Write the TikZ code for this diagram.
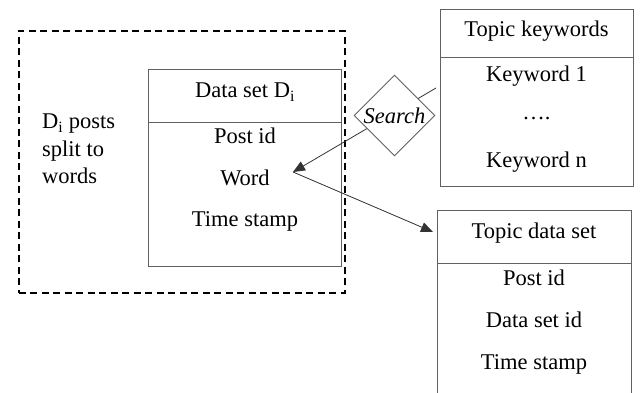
\documentclass[tikz,border=0pt]{standalone}
\usepackage{fontspec}
\setmainfont{Liberation Serif}
\usetikzlibrary{shapes.geometric,arrows.meta}
\begin{document}
\begin{tikzpicture}[x=1pt,y=-1pt,
  font=\fontsize{22.5}{27.5}\selectfont,
  tbl/.style={draw=black!62,line width=0.9pt,fill=none,anchor=north west,inner sep=0},
  sep/.style={draw=black!62,line width=0.9pt},
  dashbox/.style={draw=black,line width=1.5pt,dash pattern=on 7pt off 4.5pt},
  txt/.style={inner sep=0,anchor=center},
  conn/.style={draw=black!80,line width=0.8pt},
  tip/.style={-{Triangle[length=12pt,width=10pt]}}
]
\useasboundingbox (0,0) rectangle (643,392);
% dashed group
\node[dashbox,anchor=north west,minimum width=326pt,minimum height=262pt,inner sep=0] (grp) at (18,30) {};
\node[txt,anchor=west,align=left] (note) at (42,149) {D\textsubscript{i} posts\\split to\\words};
% data set box
\node[tbl,minimum width=193pt,minimum height=197pt] (ds) at (148,69) {};
\draw[sep] (148,122) -- (341,122);
\node[txt] (dsh) at (245,92) {Data set D\textsubscript{i}};
\node[txt] (dsp) at (245,136) {Post id};
\node[txt] (dsw) at (245,178) {Word};
\node[txt] (dst) at (245,221) {Time stamp};
% topic keywords box
\node[tbl,minimum width=193pt,minimum height=177pt] (kw) at (440,9) {};
\draw[sep] (440,57) -- (633,57);
\node[txt] (kwh) at (536.5,31) {Topic keywords};
\node[txt] (kw1) at (536.5,76) {Keyword 1};
\node[txt] (kwd) at (536.5,118) {\dots.};
\node[txt] (kwn) at (536.5,162) {Keyword n};
% topic data set box
\node[tbl,minimum width=194pt,minimum height=200pt] (td) at (437,210) {};
\draw[sep] (437,263) -- (631,263);
\node[txt] (tdh) at (534,233) {Topic data set};
\node[txt] (tdp) at (534,278) {Post id};
\node[txt] (tdi) at (534,320) {Data set id};
\node[txt] (tdt) at (534,364) {Time stamp};
% connectors
\coordinate (kwl) at (436,88);
\coordinate (wtip) at (293,172);
\coordinate (tdl) at (433,232);
\draw[conn,tip] (kwl) -- (wtip);
\draw[conn,tip] (wtip) -- (tdl);
% search diamond
\node[diamond,draw=black!62,line width=0.9pt,fill=white,inner sep=0,minimum width=81pt,minimum height=81pt,font=\fontsize{22.5}{25}\selectfont\itshape] (search) at (394.5,115.5) {Search};
\end{tikzpicture}
\end{document}
